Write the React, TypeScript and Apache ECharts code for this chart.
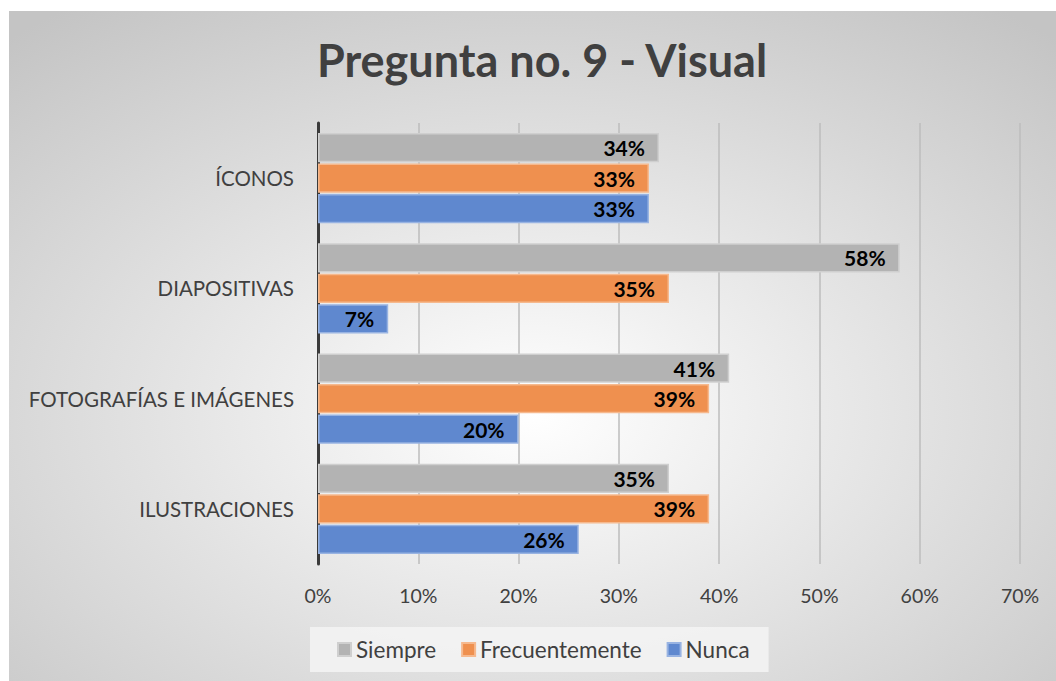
import React, { useEffect, useRef } from "react";
import * as echarts from "echarts";

const categories = ["ILUSTRACIONES", "FOTOGRAFÍAS E IMÁGENES", "DIAPOSITIVAS", "ÍCONOS"];
const seriesNames = ["Siempre", "Frecuentemente", "Nunca"];
const siempre = [35, 41, 58, 34];
const frecuentemente = [39, 39, 35, 33];
const nunca = [26, 20, 7, 33];
const xTicks = [0, 10, 20, 30, 40, 50, 60, 70];

const FONT = "Lato, 'Open Sans', sans-serif";
const TEXT = "#404040";

export default function App() {
  const ref = useRef<HTMLDivElement>(null);
  useEffect(() => {
    if (!ref.current) return;
    const chart = echarts.init(ref.current, null, { renderer: "svg" });
    const colors = ["#b3b3b3", "#ef904f", "#5f88cf"];
    const borders = ["#cfcfcf", "#f6b98e", "#98b3e2"];
    const values = [siempre, frecuentemente, nunca];
    chart.setOption({
      animation: false,
      backgroundColor: {
        type: "radial",
        x: 0.5,
        y: 0.6,
        r: 0.75,
        colorStops: [
          { offset: 0, color: "#ffffff" },
          { offset: 1, color: "#c4c4c4" },
        ],
      },
      textStyle: { fontFamily: FONT },
      title: {
        text: "Pregunta no. 9 - Visual",
        left: 528,
        top: 21,
        textAlign: "center",
        textStyle: { fontFamily: FONT, fontSize: 45, fontWeight: "bold", color: TEXT },
      },
      grid: { left: 309, right: 36, top: 112, bottom: 117, containLabel: false },
      xAxis: {
        type: "value",
        min: 0,
        max: xTicks[xTicks.length - 1],
        interval: 10,
        axisLine: { show: false },
        axisTick: { show: false },
        splitLine: { show: true, lineStyle: { color: "#bdbdbd", width: 1.5 } },
        axisLabel: {
          formatter: "{value}%",
          color: TEXT,
          fontSize: 19.5,
          fontFamily: FONT,
          margin: 21,
        },
      },
      yAxis: {
        type: "category",
        data: categories,
        axisLine: { show: true, lineStyle: { color: "#3a3a3a", width: 3 } },
        axisTick: { show: false },
        axisLabel: { color: TEXT, fontSize: 20.5, fontFamily: FONT, margin: 24 },
      },
      legend: {
        data: seriesNames,
        left: 301,
        top: 616,
        orient: "horizontal",
        backgroundColor: "rgba(243,243,243,0.9)",
        padding: [11, 19, 11, 27],
        itemWidth: 13,
        itemHeight: 13,
        itemGap: 25,
        icon: "rect",
        textStyle: { color: TEXT, fontSize: 22.5, fontFamily: FONT },
      },
      series: seriesNames.map((name, i) => ({
        name,
        type: "bar",
        data: values[i],
        barGap: "4.5%",
        barCategoryGap: "18%",
        itemStyle: { color: colors[i], borderColor: borders[i], borderWidth: 1.5 },
        label: {
          show: true,
          position: "insideRight",
          formatter: "{c}%",
          color: "#000000",
          fontWeight: "bold",
          fontSize: 21,
          fontFamily: FONT,
          distance: 14,
        },
      })),
    });
    return () => chart.dispose();
  }, []);
  return (
    <div style={{ position: "absolute", left: 0, top: 0, width: 1056, height: 681, background: "#ffffff" }}>
      <div ref={ref} style={{ position: "absolute", left: 9, top: 11, width: 1047, height: 670 }} />
    </div>
  );
}
